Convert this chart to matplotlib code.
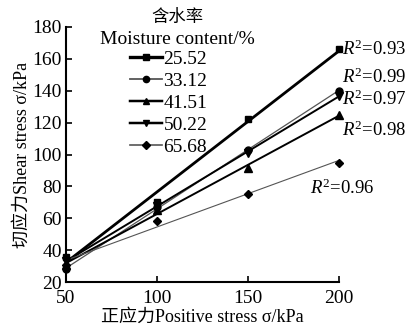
import numpy as np
import matplotlib
matplotlib.use("Agg")
import matplotlib.pyplot as plt
from matplotlib.lines import Line2D

plt.rcParams['font.family'] = ['Liberation Serif', 'Noto Sans CJK SC']
plt.rcParams['mathtext.fontset'] = 'custom'
plt.rcParams['mathtext.rm'] = 'Liberation Serif'
plt.rcParams['mathtext.it'] = 'Liberation Serif:italic'

normal_stress = [50, 100, 150, 200]
moisture = ['25.52', '33.12', '41.51', '50.22', '65.68']
s_2552 = [36, 70, 122.5, 166]
s_3312 = [28, 67, 103, 140]
s_4151 = [31, 65, 91.5, 125]
s_5022 = [33, 68, 101, 137]
s_6568 = [31, 58.5, 75.5, 95]
# R^2 labels, top to bottom as printed
r2_labels = ['0.93', '0.99', '0.97', '0.98', '0.96']

series = [s_2552, s_3312, s_4151, s_5022, s_6568]
markers = ['s', 'o', '^', 'v', 'D']
colors = ['black', '#555555', 'black', 'black', '#555555']
lws = [2.0, 0.9, 1.4, 1.4, 0.8]
msizes = [5, 5, 5.5, 5.5, 4.5]

fig = plt.figure(figsize=(4.09, 3.25), dpi=100)
ax = fig.add_axes([0.161, 0.132, 0.668, 0.785])

x = np.array(normal_stress, dtype=float)
handles = []
for ys, m, c, lw, ms, lab in zip(series, markers, colors, lws, msizes, moisture):
    k, b = np.polyfit(x, ys, 1)
    ax.plot([x[0], x[-1]], [k * x[0] + b, k * x[-1] + b], color=c, lw=lw, zorder=2)
    ax.plot(x, ys, linestyle='none', marker=m, color='black', ms=ms, zorder=3, clip_on=False)
    handles.append(Line2D([0], [0], color=c, lw=lw + 0.4, marker=m, ms=ms - 0.5,
                          markerfacecolor='black', markeredgecolor='black', label=lab))

r2_pos = [(201.5, 166), (201.5, 148.5), (201.5, 134.5), (201.5, 115.5), (184, 79)]
for (px, py), r in zip(r2_pos, r2_labels):
    ax.text(px, py, r'$R^2$=' + r, fontsize=13.5, va='center', ha='left', clip_on=False)

ax.set_xlim(50, 200)
ax.set_ylim(20, 180)
ax.set_xticks([50, 100, 150, 200])
ax.set_yticks(np.arange(20, 181, 20))
ax.spines['top'].set_visible(False)
ax.spines['right'].set_visible(False)
ax.spines['left'].set_linewidth(1.5)
ax.spines['bottom'].set_linewidth(1.5)
ax.tick_params(direction='in', length=4, width=1.2, labelsize=14, pad=3)
ax.tick_params(axis='x', direction='in', length=4, pad=6)
ax.set_xlabel('正应力Positive stress σ/kPa', fontsize=13, labelpad=1)
ax.set_ylabel('切应力Shear stress σ/kPa', fontsize=13, labelpad=1)

fig.text(177 / 409, 1 - 18 / 325, '含水率', fontsize=12.5, ha='center', va='center')
fig.text(177 / 409, 1 - 40 / 325, 'Moisture content/%', fontsize=14, ha='center', va='center')

leg = fig.legend(handles=handles, loc='upper left', bbox_to_anchor=(0.284, 0.887),
                 frameon=False, fontsize=14, handlelength=1.65, handletextpad=0.08,
                 labelspacing=0.22, borderpad=0.2)

fig.savefig('out.png', dpi=100)
